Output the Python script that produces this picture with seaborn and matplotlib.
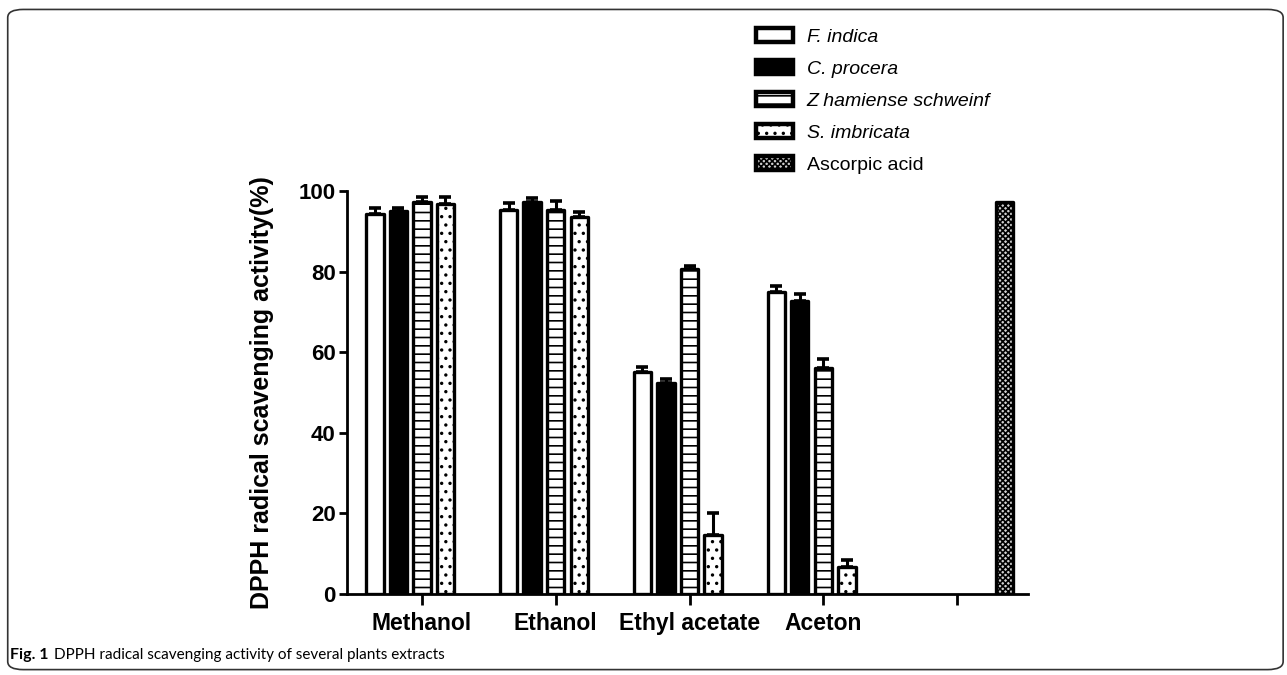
import pandas as pd
import matplotlib.pyplot as plt
import seaborn as sns
from matplotlib.patches import FancyBboxPatch

# Data (mean, upper error)
solvents = ["Methanol", "Ethanol", "Ethyl acetate", "Aceton", ""]
extracts = ["F. indica", "C. procera", "Z hamiense schweinf", "S. imbricata", "Ascorpic acid"]

f_indica = [94.4, 95.2, 55.0, 75.0, None]
f_indica_err = [1.3, 1.8, 1.4, 1.5, None]
c_procera = [95.0, 97.4, 52.3, 72.6, None]
c_procera_err = [0.7, 0.8, 1.0, 1.9, None]
z_hamiense = [97.2, 95.4, 80.6, 56.0, None]
z_hamiense_err = [1.4, 2.2, 0.8, 2.3, None]
s_imbricata = [96.9, 93.6, 14.6, 6.6, None]
s_imbricata_err = [1.5, 1.3, 5.4, 1.8, None]
ascorbic = [None, None, None, None, 97.2]
ascorbic_err = [None, None, None, None, 0.0]

fills = ["white", "black", "white", "white", "#d0d0d0"]
hatches = ["", "", "--", "..", "xxxxxx"]

values = [f_indica, c_procera, z_hamiense, s_imbricata, ascorbic]
errors = [f_indica_err, c_procera_err, z_hamiense_err, s_imbricata_err, ascorbic_err]

rows = []
for name, vals, errs in zip(extracts, values, errors):
    for solvent, v, e in zip(solvents, vals, errs):
        if v is not None:
            rows.append({"solvent": solvent, "extract": name, "value": v, "err": e})
df = pd.DataFrame(rows)

sns.set_style("ticks")
plt.rcParams["font.family"] = ["Liberation Sans", "DejaVu Sans"]
plt.rcParams["hatch.linewidth"] = 1.2
for key in ["text.color", "axes.labelcolor", "xtick.color", "ytick.color", "axes.edgecolor"]:
    plt.rcParams[key] = "black"

fig = plt.figure(figsize=(12.87, 6.75), dpi=100)
ax = fig.add_axes([0.2696, 0.12, 0.5292, 0.597])

group_width = 0.88
sns.barplot(data=df, x="solvent", y="value", hue="extract", order=solvents,
            hue_order=extracts, palette=dict(zip(extracts, fills)),
            errorbar=None, width=group_width, gap=0.26, edgecolor="black",
            linewidth=2.4, ax=ax, legend=False)

# style each bar by its hue slot and add the upward-only error bars
slot = group_width / len(extracts)
handles = {}
for bar in ax.patches:
    h = bar.get_height()
    if pd.isna(h) or h == 0:
        continue
    xc = bar.get_x() + bar.get_width() / 2
    cat = int(round(xc))
    k = int(round((xc - cat + group_width / 2 - slot / 2) / slot))
    bar.set_hatch(hatches[k])
    bar.set_edgecolor("black")
    bar.set_linewidth(2.4)
    bar.set_joinstyle("round")
    handles.setdefault(k, bar)
    row = df[(df["extract"] == extracts[k]) & (df["solvent"] == solvents[cat])]
    if len(row) and row["err"].iloc[0] > 0:
        ax.errorbar(xc, h, yerr=[[0], [row["err"].iloc[0]]], fmt="none", ecolor="black",
                    elinewidth=2.2, capsize=4.5, capthick=2.6, zorder=1, clip_on=False)

ax.set_ylim(0, 100)
ax.set_xlim(-0.56, 4.53)
ax.set_yticks([0, 20, 40, 60, 80, 100])
ax.set_xlabel("")
ax.set_ylabel("DPPH radical scavenging activity(%)", fontsize=18, fontweight="bold", labelpad=18)
ax.tick_params(axis="y", length=6, width=2, labelsize=16, pad=2)
ax.tick_params(axis="x", length=8, width=2, labelsize=16.5, pad=5)
for lab in ax.get_xticklabels() + ax.get_yticklabels():
    lab.set_fontweight("bold")
for side in ["top", "right"]:
    ax.spines[side].set_visible(False)
ax.spines["left"].set_linewidth(2)
ax.spines["bottom"].set_linewidth(2)

leg = fig.legend([handles[k] for k in range(len(extracts))], extracts, loc="upper left",
                 bbox_to_anchor=(0.574, 0.984), frameon=False, fontsize=14,
                 handlelength=1.9, handleheight=0.7, labelspacing=0.74, handletextpad=0.7)
for t in leg.get_texts()[:4]:
    t.set_fontstyle("italic")
for hnd in leg.legend_handles:
    hnd.set_linewidth(3.2)

# caption and rounded frame
cap = fig.text(0.008, 0.024, "Fig. 1", fontsize=11.5, fontweight="bold", family="Lato")
fig.canvas.draw()
bb = cap.get_window_extent().transformed(fig.transFigure.inverted())
fig.text(bb.x1 + 0.004, 0.024, "DPPH radical scavenging activity of several plants extracts",
         fontsize=11, family="Lato")
frame = FancyBboxPatch((0.006, 0.008), 0.991, 0.978, boxstyle="round,pad=0,rounding_size=0.012",
                       transform=fig.transFigure, fill=False, edgecolor="#333333", linewidth=1.2)
fig.patches.append(frame)

fig.savefig("out.png", dpi=100)
